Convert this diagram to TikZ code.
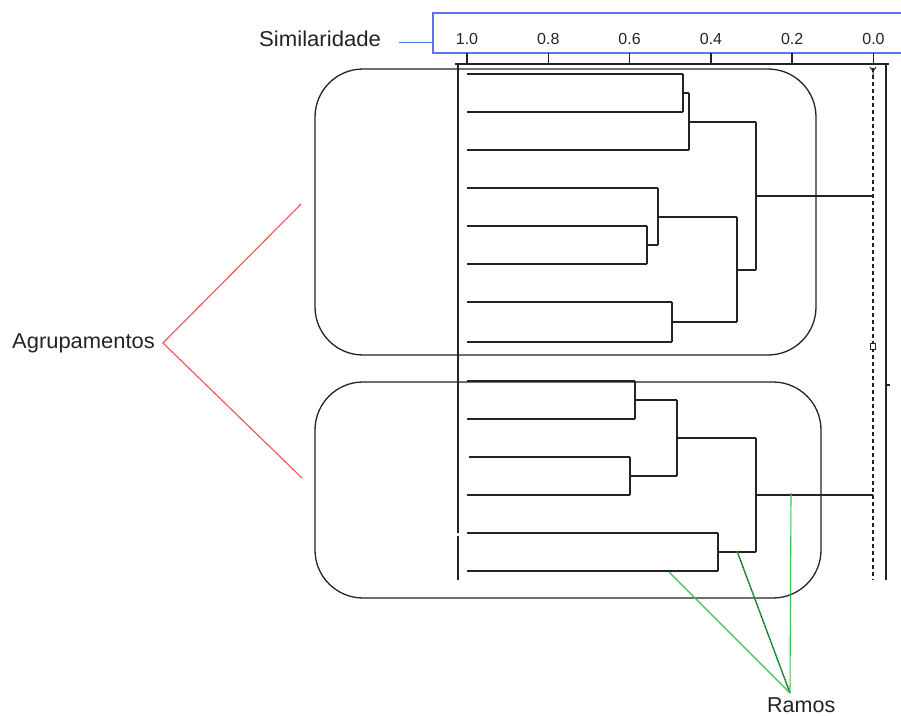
\documentclass[tikz,border=0pt]{standalone}
\usepackage{fontspec}
\setmainfont{Liberation Sans}
\definecolor{axisblue}{RGB}{95,115,235}
\definecolor{grpred}{RGB}{240,80,80}
\definecolor{ramgreen}{RGB}{60,190,85}
\definecolor{ink}{RGB}{35,35,35}
\begin{document}
\begin{tikzpicture}[x=1pt,y=-1pt,
  dend/.style={ink,line width=1.45pt},
  grpbox/.style={ink,line width=1.3pt,rounded corners=48pt},
  blueln/.style={axisblue,line width=1.3pt},
  redln/.style={grpred,line width=1.1pt},
  greenln/.style={ramgreen,line width=1.1pt},
  lbl/.style={font=\fontsize{21.5}{24}\selectfont,text=ink,inner sep=0pt},
  ticklbl/.style={font=\fontsize{16}{18}\selectfont,text=ink,inner sep=0pt,anchor=base}]
\useasboundingbox (0,0) rectangle (901,715);
% scale header
\node[lbl,anchor=base west,xscale=1.03] (sim) at (259,46) {Similaridade};
\coordinate (bl1) at (399,42.7);
\coordinate (bl2) at (433,42.7);
\draw[blueln] (bl1) -- (bl2);
\draw[blueln] (903,13) -- (433,13) -- (433,53) -- (903,53);
\foreach \v/\x in {1.0/467,0.8/548.3,0.6/629.6,0.4/710.9,0.2/792.2,0.0/873.5}{
  \node[ticklbl] at (\x,44) {\v};
  \draw[dend] (\x,53) -- (\x,64);
}
\draw[dend] (455,64) -- (889,64);
\draw[dend] (458,64) -- (458,533) (458,536) -- (458,580);
\draw[dend] (886,64) -- (886,580) (886,385) -- (890,385);
\draw[ink,line width=1.3pt,dash pattern=on 4pt off 3pt] (873,68) -- (873,580);
\draw[ink,line width=1pt] (870,67) -- (873,71) -- (876,67) (873,71) -- (873,75);
\draw[ink,line width=1pt,fill=white] (870.5,343) rectangle (875.5,349);
% cluster boxes
\draw[grpbox] (315,69) rectangle (816,355);
\draw[grpbox] (315,382) rectangle (821,598);
% top cluster
\foreach \y/\e in {74/683,112/683,150/689,188/658,226/647,264/647,302/672,342/672}{
  \draw[dend] (467,\y) -- (\e,\y);
}
\draw[dend] (683,74) -- (683,112) (683,93) -- (689,93);
\draw[dend] (689,93) -- (689,150) (689,122) -- (756,122);
\draw[dend] (647,226) -- (647,264) (647,245) -- (658,245);
\draw[dend] (658,188) -- (658,245) (658,217) -- (737,217);
\draw[dend] (672,302) -- (672,342) (672,322) -- (737,322);
\draw[dend] (737,217) -- (737,322) (737,270) -- (756,270);
\draw[dend] (756,122) -- (756,270) (756,196) -- (873,196);
% bottom cluster
\draw[dend,line width=2pt] (467,381) -- (635,381);
\foreach \y/\s/\e in {419/467/635,457/469/630,495/467/630,533/467/718,571/467/718}{
  \draw[dend] (\s,\y) -- (\e,\y);
}
\draw[dend] (635,381) -- (635,419) (635,400) -- (677,400);
\draw[dend] (630,457) -- (630,495) (630,476) -- (677,476);
\draw[dend] (677,400) -- (677,476) (677,438) -- (756,438);
\draw[dend] (718,533) -- (718,571) (718,552) -- (756,552);
\draw[dend] (756,438) -- (756,552) (756,495) -- (873,495);
% Agrupamentos
\node[lbl,anchor=base west,xscale=1.02] (agr) at (12,348) {Agrupamentos};
\coordinate (rv) at (163,343);
\coordinate (rt) at (301,204);
\coordinate (rb) at (302,478);
\draw[redln] (rt) -- (rv) -- (rb);
% Ramos
\node[lbl,anchor=base west] (ram) at (767,712) {Ramos};
\coordinate (gv) at (790,693);
\coordinate (g1) at (669,572);
\coordinate (g2) at (737,551);
\coordinate (g3) at (791,493);
\draw[greenln] (g1) -- (gv);
\draw[greenln,line width=1.5pt] (g2) -- (gv);
\draw[ink,line width=0.8pt,dash pattern=on 1.2pt off 1.2pt] (g2) -- (gv);
\draw[greenln] (g3) -- (gv);
\end{tikzpicture}
\end{document}
